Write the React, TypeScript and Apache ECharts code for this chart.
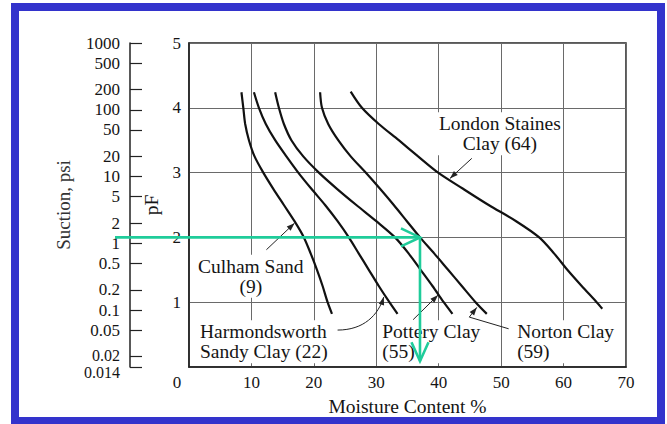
import React, { useEffect, useRef } from "react";
import * as echarts from "echarts";

// ---- data (moisture content %, pF) ----
const culhamSand = [[8.4, 4.24], [8.7, 4.0], [9.0, 3.75], [9.6, 3.5], [10.5, 3.25], [11.9, 3.0], [13.5, 2.75], [15.2, 2.5], [16.9, 2.25], [18.4, 2.0], [19.5, 1.75], [20.5, 1.5], [21.4, 1.25], [22.2, 1.0], [22.9, 0.82]];
const harmondsworth = [[10.4, 4.24], [11.2, 4.0], [12.3, 3.75], [13.8, 3.5], [15.6, 3.25], [17.5, 3.0], [19.6, 2.75], [21.8, 2.5], [23.8, 2.25], [25.6, 2.0], [27.2, 1.75], [28.8, 1.5], [30.4, 1.25], [32.1, 1.0], [33.4, 0.82]];
const potteryClay = [[13.8, 4.24], [14.4, 4.0], [15.2, 3.75], [16.4, 3.5], [18.3, 3.25], [20.8, 3.0], [23.7, 2.75], [26.8, 2.5], [30.0, 2.25], [33.0, 2.0], [35.2, 1.75], [37.1, 1.5], [39.0, 1.25], [40.8, 1.0], [42.2, 0.82]];
const nortonClay = [[21.0, 4.24], [21.3, 4.0], [22.3, 3.75], [23.9, 3.5], [25.9, 3.25], [28.3, 3.0], [30.6, 2.75], [32.8, 2.5], [34.9, 2.25], [37.0, 2.0], [39.3, 1.75], [41.5, 1.5], [43.7, 1.25], [45.9, 1.0], [47.7, 0.82]];
const londonStaines = [[25.9, 4.25], [27.7, 4.0], [30.4, 3.75], [33.6, 3.5], [36.7, 3.25], [39.9, 3.0], [43.9, 2.75], [48.0, 2.5], [52.4, 2.25], [56.1, 2.0], [58.5, 1.75], [60.6, 1.5], [62.9, 1.25], [65.3, 1.0], [66.2, 0.9]];

const suctionTicks = [1000, 500, 200, 100, 50, 20, 10, 5, 2, 1, 0.5, 0.2, 0.1, 0.05, 0.02, 0.014];
const suctionLabels = ["1000", "500", "200", "100", "50", "20", "10", "5", "2", "1", "0.5", "0.2", "0.1", "0.05", "0.02", "0.014"];

// annotation texts and anchor points (data coords)
const curveLabels = [
  { text: "London Staines\nClay (64)", at: [49.8, 3.6], align: "center" },
  { text: "Culham Sand\n(9)", at: [9.9, 1.4], align: "center" },
  { text: "Harmondsworth\nSandy Clay (22)", at: [1.6, 0.39], align: "left" },
  { text: "Pottery Clay\n(55)", at: [30.8, 0.39], align: "left" },
  { text: "Norton Clay\n(59)", at: [52.4, 0.39], align: "left" },
];
const straightLeaders = [
  [[45.3, 3.22], [41.8, 2.91]],
  [[12.4, 1.81], [16.9, 2.22]],
  [[35.9, 0.73], [39.9, 1.11]],
  [[51.2, 0.59], [44.9, 0.77], [46.1, 0.92]],
];
const curvedLeader = [[23.8, 0.57], [28.0, 0.57], [30.3, 0.8], [31.2, 1.08]];
const readPoint = [37.0, 2.0];
const readFoot = 0.09;

const FONT = "'Liberation Serif', 'Times New Roman', serif";
const GREEN = "#1fcc9a";
const BLUE = "#3333cc";
const INK = "#151515";

export default function App() {
  const ref = useRef<HTMLDivElement>(null);
  useEffect(() => {
    if (!ref.current) return;
    const chart = echarts.init(ref.current, null, { renderer: "svg" });
    const lineSeries = (name: string, data: number[][]) => ({
      name,
      type: "line",
      data,
      smooth: 0.3,
      showSymbol: false,
      silent: true,
      xAxisIndex: 0,
      yAxisIndex: 0,
      lineStyle: { color: "#111", width: 2.2 },
      z: 3,
    });
    const n = suctionTicks.length;
    // the two crowded bottom labels are drawn as separate texts (nudged apart)
    const separate = [n - 2, n - 1];
    const nudge = [-1.5, 5];
    chart.setOption({
      animation: false,
      backgroundColor: "#fff",
      textStyle: { fontFamily: FONT },
      grid: { left: 189, top: 43, width: 437, height: 324, show: true, borderColor: "#222", borderWidth: 1.5 },
      xAxis: {
        type: "value", min: 0, max: 70, interval: 10,
        name: "Moisture Content %", nameLocation: "middle", nameGap: 29,
        nameTextStyle: { fontSize: 19.5, color: INK, fontFamily: FONT },
        axisLine: { show: true, lineStyle: { color: "#222", width: 1.5 } },
        axisTick: { show: false },
        axisLabel: {
          fontSize: 17, color: INK, margin: 7, fontFamily: FONT,
          formatter: (v: number) => (v === 0 ? "{z|0}" : String(v)),
          rich: { z: { fontSize: 17, fontFamily: FONT, color: INK, padding: [0, 24, 0, 0] } },
        },
        splitLine: { show: true, lineStyle: { color: "#6a6a6a", width: 1 } },
      },
      yAxis: [
        {
          type: "value", min: 0, max: 5, interval: 1, position: "left",
          name: "pF", nameLocation: "middle", nameGap: 23, nameRotate: 90,
          nameTextStyle: { fontSize: 19.5, color: INK, fontFamily: FONT },
          axisLine: { show: true, lineStyle: { color: "#222", width: 1.5 } },
          axisTick: { show: false },
          axisLabel: { fontSize: 17, color: INK, margin: 8, fontFamily: FONT, formatter: (v: number) => (v === 0 ? "" : String(v)) },
          splitLine: { show: true, lineStyle: { color: "#6a6a6a", width: 1 } },
        },
        {
          type: "value", min: Math.log10(0.014), max: 3, position: "left", offset: 59,
          name: "Suction, psi", nameLocation: "middle", nameGap: 57, nameRotate: 90,
          nameTextStyle: { fontSize: 19, color: "#333", fontFamily: FONT },
          axisLine: { show: true, lineStyle: { color: "#222", width: 1.5 } },
          axisTick: { show: true, inside: true, length: 12, lineStyle: { color: "#222", width: 1.2 }, customValues: suctionTicks.map((t) => Math.log10(t)) },
          axisLabel: {
            fontSize: 17, color: INK, margin: 10, fontFamily: FONT,
            showMaxLabel: true, hideOverlap: false,
            customValues: suctionTicks.map((t) => Math.log10(t)),
            formatter: (v: number) => {
              const i = suctionTicks.findIndex((t) => Math.abs(Math.log10(t) - v) < 1e-6);
              return i >= 0 && separate.indexOf(i) < 0 ? suctionLabels[i] : "";
            },
          },
          splitLine: { show: false },
        },
      ],
      series: [
        lineSeries("Culham Sand (9)", culhamSand),
        lineSeries("Harmondsworth Sandy Clay (22)", harmondsworth),
        lineSeries("Pottery Clay (55)", potteryClay),
        lineSeries("Norton Clay (59)", nortonClay),
        lineSeries("London Staines Clay (64)", londonStaines),
      ],
    });

    const px = (p: number[]) => chart.convertToPixel({ xAxisIndex: 0, yAxisIndex: 0 }, p) as number[];
    const head = (tip: number[], from: number[], L: number, W: number) => {
      const dx = tip[0] - from[0], dy = tip[1] - from[1];
      const len = Math.hypot(dx, dy) || 1;
      const ux = dx / len, uy = dy / len;
      const bx = tip[0] - ux * L, by = tip[1] - uy * L;
      return [[bx - uy * W, by + ux * W], [tip[0], tip[1]], [bx + uy * W, by - ux * W]];
    };
    const graphics: any[] = [];
    graphics.push({ type: "rect", shape: { x: 15, y: 7, width: 646, height: 414 }, style: { fill: "none", stroke: BLUE, lineWidth: 8 }, z: 50, silent: true });
    {
      const axisX = px([0, 0])[0] - 59;
      separate.forEach((idx, k) => {
        const yv = chart.convertToPixel({ yAxisIndex: 1 }, Math.log10(suctionTicks[idx])) as number;
        graphics.push({
          type: "text", x: axisX - 10, y: yv + nudge[k], z: 10, silent: true,
          style: { text: suctionLabels[idx], fontSize: 16, fontFamily: FONT, fill: INK, align: "right", verticalAlign: "middle" },
        });
      });
    }
    curveLabels.forEach((l) => {
      const p = px(l.at);
      graphics.push({
        type: "text", x: p[0], y: p[1], z: 10, silent: true,
        style: { text: l.text, fontSize: 19.5, fontFamily: FONT, fill: INK, align: l.align, verticalAlign: "middle", lineHeight: 20.5, backgroundColor: "#fff", padding: [1, 1] },
      });
    });
    straightLeaders.forEach((pts) => {
      const pp = pts.map(px);
      graphics.push({ type: "polyline", shape: { points: pp }, style: { stroke: "#222", lineWidth: 1, fill: "none" }, z: 11, silent: true });
      graphics.push({ type: "polygon", shape: { points: head(pp[pp.length - 1], pp[pp.length - 2], 8, 2.8) }, style: { fill: "#222" }, z: 11, silent: true });
    });
    {
      const c = curvedLeader.map(px);
      graphics.push({ type: "bezierCurve", shape: { x1: c[0][0], y1: c[0][1], cpx1: c[1][0], cpy1: c[1][1], cpx2: c[2][0], cpy2: c[2][1], x2: c[3][0], y2: c[3][1] }, style: { stroke: "#222", lineWidth: 1, fill: "none" }, z: 11, silent: true });
      graphics.push({ type: "polygon", shape: { points: head(c[3], c[2], 8, 2.8) }, style: { fill: "#222" }, z: 11, silent: true });
    }
    {
      const tip = px(readPoint);
      const origin = px([0, readPoint[1]]);
      const foot = px([readPoint[0], readFoot]);
      const start = [origin[0] - 74, tip[1]];
      const g = { stroke: GREEN, lineWidth: 2.6, fill: "none" };
      graphics.push({ type: "polyline", shape: { points: [start, tip] }, style: g, z: 20, silent: true });
      graphics.push({ type: "polyline", shape: { points: head(tip, start, 19, 9) }, style: g, z: 20, silent: true });
      graphics.push({ type: "polyline", shape: { points: [tip, foot] }, style: g, z: 20, silent: true });
      graphics.push({ type: "polyline", shape: { points: head(foot, tip, 19, 8.5) }, style: g, z: 20, silent: true });
    }
    chart.setOption({ graphic: graphics });
    return () => chart.dispose();
  }, []);
  return <div ref={ref} style={{ position: "fixed", left: 0, top: 0, width: 667, height: 424, background: "#fff" }} />;
}
